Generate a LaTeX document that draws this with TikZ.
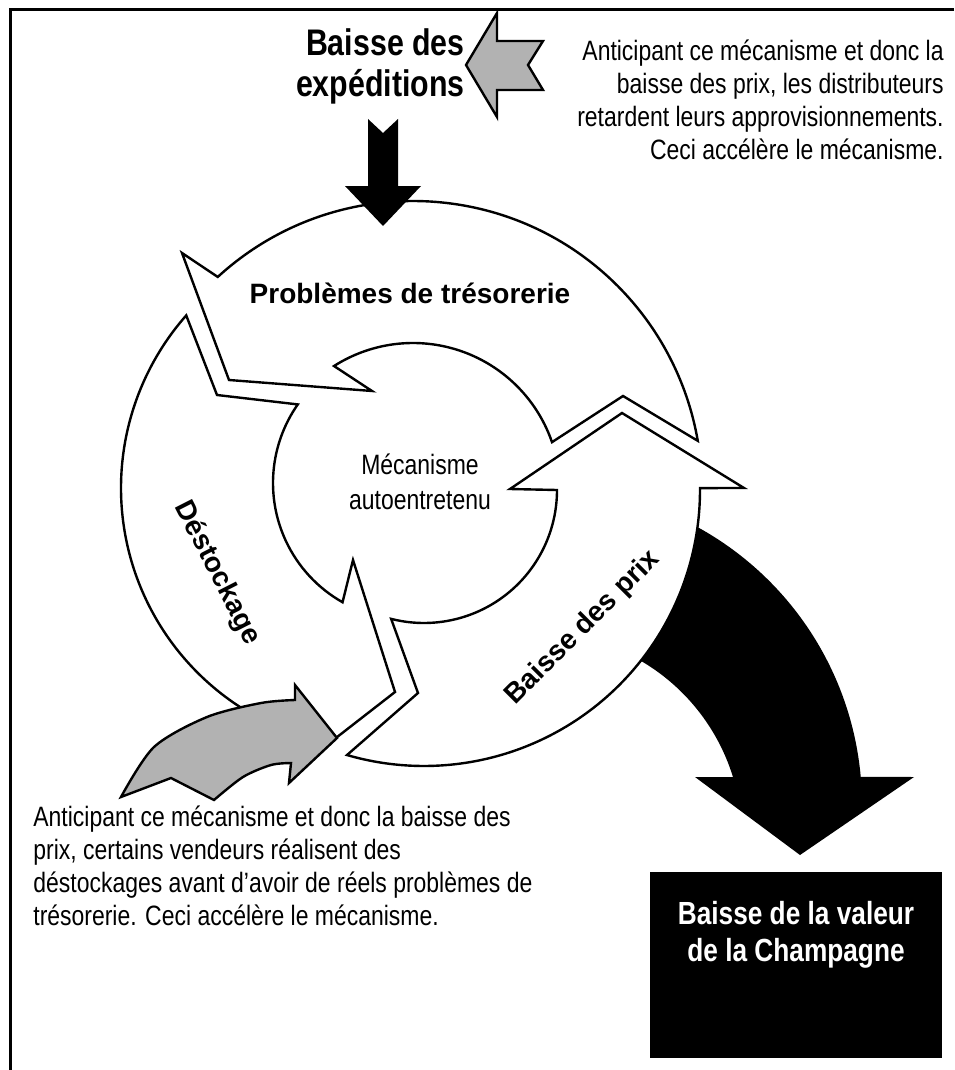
\documentclass[tikz,border=0pt]{standalone}
\usepackage{fontspec}
\setmainfont{Liberation Sans}
\newfontfamily\narrowfont{Liberation Sans}[FakeStretch=0.82]
\usetikzlibrary{positioning,calc}
\tikzset{
  ringarrow/.style={draw, line width=1.2pt, fill=white, line join=miter},
  greyarrow/.style={draw, line width=1.2pt, fill=black!30, line join=miter},
  darkarrow/.style={fill=black},
  cyclelabel/.style={font=\fontsize{14}{17}\selectfont\bfseries, inner sep=0pt},
  notetext/.style={font=\narrowfont\fontsize{14}{16.5}\selectfont, inner sep=0pt},
}

\begin{document}
\begin{tikzpicture}[
  x=0.5pt, y=-0.5pt,
  valbox/.style={fill=black, minimum width=146pt, minimum height=93pt, inner sep=0pt},
]
  \useasboundingbox (0,0) rectangle (954,1070);
  \draw[line width=1.5pt] (954,10) -- (10,10) -- (10,1070);

  % centres of the arcs
  \coordinate (ca) at (413,490);
  \coordinate (cc) at (424,490);
  \coordinate (cbo) at (382,488);
  \coordinate (cbi) at (410,483);
  \coordinate (cdo) at (545,805);
  \coordinate (cdi) at (538,837);

  % output arrow, partly hidden by the price arrow
  \fill[darkarrow] (620,560) -- ($(cdo)+(-61.3:317)$) arc[start angle=-61.3, end angle=-5.1, radius=317]
    -- (914,777) -- (800,855) -- (695,777) -- ($(cdi)+(-17.1:204)$)
    arc[start angle=-17.1, end angle=-60.1, radius=204] -- (600,640) -- cycle;

  % the three arrows of the cycle
  \draw[ringarrow] ($(cc)+(106.2:276)$) -- (418,693) -- ($(cc)+(104.3:133)$)
    arc[start angle=104.3, end angle=0, radius=133]
    -- (510,489) -- (622,413) -- (744,488) -- ($(cc)+(-0.4:276)$)
    arc[start angle=-0.4, end angle=106.2, radius=276] -- cycle;
  \draw[ringarrow] ($(ca)+(-9.8:289)$) -- (623,396) -- ($(ca)+(-19:147)$)
    arc[start angle=-19, end angle=-122.5, radius=147]
    -- (372,391) -- (229,380) -- (182,253) -- ($(ca)+(-132.5:289)$)
    arc[start angle=-132.5, end angle=-9.8, radius=289] -- cycle;
  \draw[ringarrow] ($(cbo)+(221.4:261)$) -- (217,395) -- ($(cbi)+(215:137)$)
    arc[start angle=215, end angle=119.5, radius=137]
    -- (353,560) -- (395,692) -- (305,762) -- ($(cbo)+(113:261)$)
    arc[start angle=113, end angle=221.4, radius=261] -- cycle;

  % side arrows
  \draw[greyarrow] (121,797) -- (171,778) -- (214,800)
    -- plot[smooth] coordinates {(214,800) (243,777) (271,765) (291,763)}
    -- (289,783) -- (337,738) -- (295,685) -- (295,700)
    -- plot[smooth] coordinates {(295,700) (261,703) (207,717) (154,747) (121,797)} -- cycle;
  \draw[greyarrow] (466,65) -- (497,13) -- (497,41) -- (543,41) -- (528,65)
    -- (543,90) -- (497,90) -- (497,117) -- cycle;
  \fill[darkarrow] (368,119) -- (383,133) -- (398,119) -- (398,186) -- (421,186)
    -- (383,226) -- (345,186) -- (368,186) -- cycle;

  \node[anchor=east, align=right, inner sep=0pt, font=\narrowfont\fontsize{18.5}{20.5}\selectfont\bfseries] (exped) at (465,66) {Baisse des\\expéditions};
  \node[cyclelabel] (treso) at (410,293) {Problèmes de trésorerie};
  \node[cyclelabel, rotate=-63] (destock) at (217,573) {Déstockage};
  \node[cyclelabel, rotate=45] (prix) at (583,628) {Baisse des prix};
  \node[notetext, align=center, font=\narrowfont\fontsize{14}{17.5}\selectfont] (meca) at (420,482) {Mécanisme\\autoentretenu};

  \node[notetext, anchor=east, align=right] (distrib) at (944,100) {Anticipant ce mécanisme et donc la\\baisse des prix, les distributeurs\\retardent leurs approvisionnements.\\Ceci accélère le mécanisme.};
  \node[notetext, anchor=west, align=left] (vendeurs) at (33,866) {Anticipant ce mécanisme et donc la baisse des\\prix, certains vendeurs réalisent des\\déstockages avant d’avoir de réels problèmes de\\trésorerie. Ceci accélère le mécanisme.};

  \node[valbox] (valeur) at (796,965) {};
  \node[text=white, align=center, inner sep=0pt, font=\narrowfont\fontsize{16}{18.5}\selectfont\bfseries] (valtxt) at (796,935) {Baisse de la valeur\\de la Champagne};
\end{tikzpicture}
\end{document}
